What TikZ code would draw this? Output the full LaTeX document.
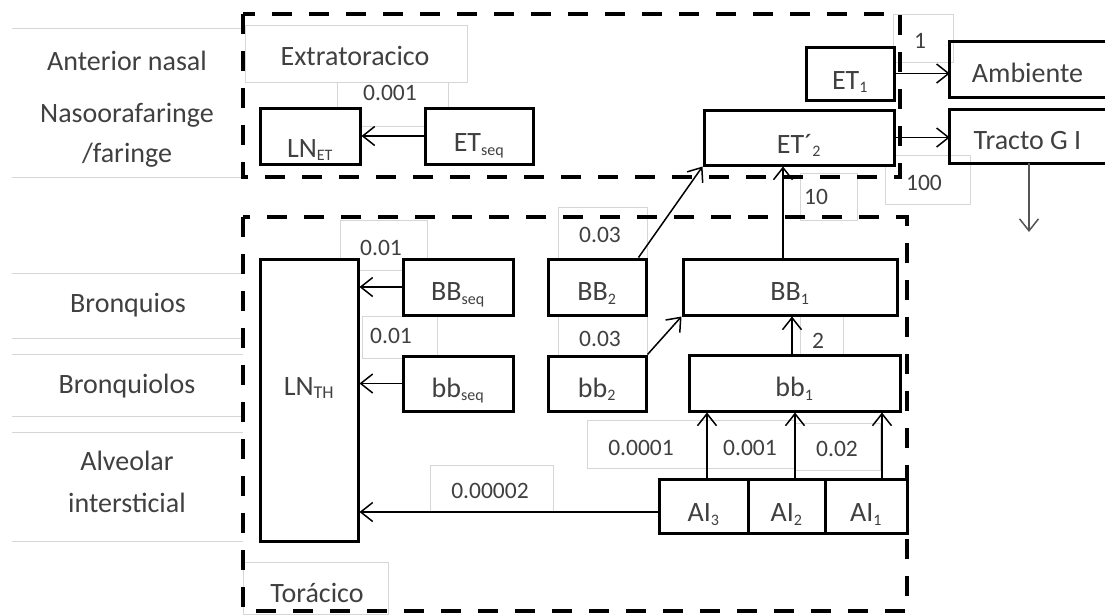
\documentclass[tikz,border=0pt]{standalone}
\usepackage{fontspec}
\setmainfont{Carlito}
\usetikzlibrary{arrows.meta}
\definecolor{txt}{HTML}{404040}
\definecolor{faint}{HTML}{D6D6D6}
\definecolor{gline}{HTML}{555555}
\newcommand\sbs[1]{\textsubscript{\fontsize{16}{16}\selectfont #1}}
\begin{document}
\begin{tikzpicture}[x=1pt,y=-1pt,
  box/.style={draw=black, line width=3pt, fill=white, inner sep=1pt,
    text height=27pt, text depth=0pt, font=\fontsize{28}{32}\selectfont, text=txt},
  lbl/.style={font=\fontsize{28}{32}\selectfont, text=txt, inner sep=0pt, anchor=base},
  num/.style={font=\fontsize{23.5}{28}\selectfont, text=txt, inner sep=0pt, anchor=base},
  arr/.style={line width=1.5pt, -{Straight Barb[length=12pt,width=19pt]}},
  dashbox/.style={line width=4pt, dash pattern=on 20pt off 17pt},
  faintline/.style={draw=faint, line width=1pt}
]
\useasboundingbox (0,0) rectangle (1105,614);

% faint text-box outlines
\foreach \yy in {28,177,273,338,354,416,432,541}
  \draw[faintline] (12,\yy) -- (243,\yy);
\draw[faintline] (245,25) rectangle (467,82);
\draw[faintline] (337,82) rectangle (448,126);
\draw[faintline] (893,14) rectangle (953,62);
\draw[faintline] (885,155) rectangle (970,204);
\draw[faintline] (800,173) rectangle (857,220);
\draw[faintline] (558,207) rectangle (647,258);
\draw[faintline] (558,316) rectangle (647,356);
\draw[faintline] (340,220) rectangle (427,270);
\draw[faintline] (362,316) rectangle (437,358);
\draw[faintline] (800,316) rectangle (843,355);
\draw[faintline] (587,420) rectangle (707,468);
\draw[faintline] (707,420) rectangle (795,468);
\draw[faintline] (795,423) rectangle (880,470);
\draw[faintline] (430,465) rectangle (553,512);
\draw[faintline] (243,562) rectangle (388,614);

% dashed regions
\draw[dashbox] (243,14) rectangle (900,177);
\draw[dashbox] (243,217) rectangle (907,611);

% region labels
\node[lbl] (lanterior) at (127,70) {Anterior nasal};
\node[lbl] (lnaso) at (127,122) {Nasoorafaringe};
\node[lbl] (lfar) at (127,162) {/faringe};
\node[lbl] (lextra) at (355,65) {Extratoracico};
\node[lbl] (lbronq) at (128,312) {Bronquios};
\node[lbl] (lbronql) at (127,393) {Bronquiolos};
\node[lbl] (lalv) at (127,470) {Alveolar};
\node[lbl] (linter) at (127,512) {intersticial};
\node[lbl] (ltor) at (317,602) {Torácico};

% compartments
\node[box, minimum width=100pt, minimum height=56pt, text height=42pt] (LNET) at (310,136) {LN\sbs{ET}};
\node[box, minimum width=108pt, minimum height=56pt, text height=31pt] (ETseq) at (479,136) {ET\sbs{seq}};
\node[box, minimum width=88pt, minimum height=53pt, text height=31pt] (ET1) at (850,73.5) {ET\sbs{1}};
\node[box, minimum width=190pt, minimum height=55pt, text height=31pt] (ET2) at (799,137.5) {ET´\sbs{2}};
\node[minimum width=155pt, minimum height=55pt, inner sep=1pt, text height=25pt, text depth=0pt,
      font=\fontsize{28}{32}\selectfont, text=txt] (amb) at (1027.5,69.5) {Ambiente};
\draw[line width=3pt] (amb.north east) -- (amb.north west) -- (amb.south west) -- (amb.south east);
\node[minimum width=155pt, minimum height=53pt, inner sep=1pt, text height=25pt, text depth=0pt,
      font=\fontsize{28}{32}\selectfont, text=txt] (tracto) at (1027.5,136.5) {Tracto G I};
\draw[line width=3pt] (tracto.north east) -- (tracto.north west) -- (tracto.south west) -- (tracto.south east);

\node[box, minimum width=98pt, minimum height=282pt, text height=0pt, text depth=10pt] (LNTH) at (309,400) {LN\textsubscript{\fontsize{18}{18}\selectfont TH}};
\node[box, minimum width=110pt, minimum height=56pt] (BBseq) at (458,287) {BB\sbs{seq}};
\node[box, minimum width=110pt, minimum height=55pt] (bbseq) at (458,383.5) {bb\sbs{seq}};
\node[box, minimum width=98pt, minimum height=56pt] (BB2) at (597,287) {BB\sbs{2}};
\node[box, minimum width=98pt, minimum height=55pt] (bb2) at (597,383.5) {bb\sbs{2}};
\node[box, minimum width=214pt, minimum height=56pt] (BB1) at (790,287) {BB\sbs{1}};
\node[box, minimum width=211pt, minimum height=56pt] (bb1) at (794.5,383) {bb\sbs{1}};
\node[box, minimum width=89pt, minimum height=54pt, text height=31pt] (Al3) at (703.5,506) {AI\sbs{3}};
\node[box, minimum width=77pt, minimum height=54pt, text height=31pt] (Al2) at (786.5,506) {AI\sbs{2}};
\node[box, minimum width=82pt, minimum height=54pt, text height=31pt] (Al1) at (866,506) {AI\sbs{1}};

% transfers
\draw[arr] (ETseq.west) -- (ETseq.west -| LNET.east);
\draw[arr] (ET1.east) -- (ET1.east -| amb.west);
\draw[arr] (ET2.east) -- (ET2.east -| tracto.west);
\coordinate (gi) at (1029,232);
\coordinate (gitop) at (gi |- tracto.south);
\draw[arr, draw=gline] (gitop) -- (gi);

\coordinate (bbup) at ([xshift=-7pt]BB1.north);
\draw[arr] (bbup) -- (bbup |- ET2.south);
\draw[arr] ([xshift=-9pt]BB2.north east) -- (ET2.south west);
\draw[arr] (bb2.north east) -- (BB1.south west);
\coordinate (bbm) at ([xshift=-2.5pt]bb1.north);
\draw[arr] (bbm) -- (bbm |- BB1.south);

\coordinate (a3) at ([xshift=3.5pt]Al3.north);
\coordinate (a2) at ([xshift=8.5pt]Al2.north);
\coordinate (a1) at ([xshift=16pt]Al1.north);
\draw[arr] (a3) -- (a3 |- bb1.south);
\draw[arr] (a2) -- (a2 |- bb1.south);
\draw[arr] (a1) -- (a1 |- bb1.south);

\draw[arr] (BBseq.west) -- (BBseq.west -| LNTH.east);
\draw[arr] (bbseq.west) -- (bbseq.west -| LNTH.east);
\coordinate (alw) at ([yshift=-6pt]Al3.west);
\draw[arr] (alw) -- (alw -| LNTH.east);

% rates
\node[num] (r0001) at (390,100) {0.001};
\node[num] (r1) at (920,48) {1};
\node[num] (r100) at (924,190) {100};
\node[num] (r10) at (816,204) {10};
\node[num] (r003a) at (600,242) {0.03};
\node[num] (r003b) at (600,346) {0.03};
\node[num] (r001a) at (381,255) {0.01};
\node[num] (r001b) at (391,343) {0.01};
\node[num] (r2) at (818,348) {2};
\node[num] (r00001) at (641,455) {0.0001};
\node[num] (r0001b) at (750,455) {0.001};
\node[num] (r002) at (837,456) {0.02};
\node[num] (r00002) at (490,498) {0.00002};
\end{tikzpicture}
\end{document}
